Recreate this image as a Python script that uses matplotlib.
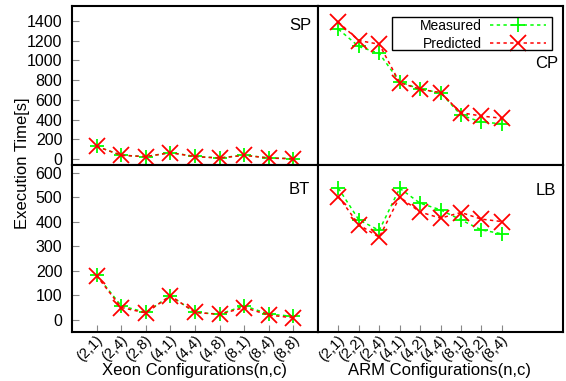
import matplotlib
matplotlib.use("Agg")
import matplotlib.pyplot as plt
import matplotlib.transforms as mtransforms
from matplotlib.patches import Rectangle

plt.rcParams['font.family'] = ['Liberation Sans', 'DejaVu Sans']

xeon_labels = ["(2,1)", "(2,4)", "(2,8)", "(4,1)", "(4,4)", "(4,8)", "(8,1)", "(8,4)", "(8,8)"]
arm_labels = ["(2,1)", "(2,2)", "(2,4)", "(4,1)", "(4,2)", "(4,4)", "(8,1)", "(8,2)", "(8,4)"]

sp_measured = [129, 40, 25, 66, 27, 12, 40, 12, 5]
sp_predicted = [129, 38, 25, 64, 25, 10, 38, 10, 3]
cp_measured = [1315, 1140, 1070, 784, 707, 673, 446, 375, 358]
cp_predicted = [1385, 1200, 1163, 774, 707, 673, 470, 436, 413]
bt_measured = [183, 57, 30, 98, 30, 23, 57, 23, 14]
bt_predicted = [180, 50, 28, 98, 30, 22, 50, 19, 8]
lb_measured = [537, 408, 365, 537, 476, 449, 408, 367, 351]
lb_predicted = [503, 388, 337, 501, 440, 415, 438, 411, 401]

W, H = 566, 381
fig = plt.figure(figsize=(W / 100, H / 100), dpi=100)

def fx(px):
    return px / W

def fy(py):
    return 1 - py / H

xl, xm, xr = 72, 318, 563
yt, ym, yb = 6, 165, 332

ax_sp = fig.add_axes([fx(xl), fy(ym), fx(xm - xl), fy(yt) - fy(ym)])
ax_cp = fig.add_axes([fx(xm), fy(ym), fx(xr - xm), fy(yt) - fy(ym)])
ax_bt = fig.add_axes([fx(xl), fy(yb), fx(xm - xl), fy(ym) - fy(yb)])
ax_lb = fig.add_axes([fx(xm), fy(yb), fx(xr - xm), fy(ym) - fy(yb)])

green = '#00ff00'
red = '#ff0000'
FS = 11.5
XFS = 10.5

def draw(ax, labels, meas, pred, name, name_pos, xlim, ylim, yticks, ylab, xlab):
    x = list(range(len(labels)))
    ax.plot(x, meas, linestyle=(0, (2.2, 2.2)), color=green, lw=1.1,
            marker='+', markersize=10, markeredgewidth=1.3, label='Measured')
    ax.plot(x, pred, linestyle=(0, (2.2, 2.2)), color=red, lw=1.1,
            marker='x', markersize=11.5, markeredgewidth=1.3, label='Predicted')
    ax.set_xlim(*xlim)
    ax.set_ylim(*ylim)
    for s in ax.spines.values():
        s.set_linewidth(1.5)
    ax.set_yticks(yticks)
    if ylab:
        ax.tick_params(axis='y', direction='in', length=5, color='#888888',
                       labelsize=FS, left=True, right=False, pad=7)
    else:
        ax.tick_params(axis='y', left=False, right=False, labelleft=False)
    ax.set_xticks(x)
    if xlab:
        ax.set_xticklabels(labels, rotation=45, ha='right', va='center',
                           rotation_mode='anchor', fontsize=XFS)
        ax.tick_params(axis='x', direction='in', length=5, color='#888888', pad=4,
                       bottom=True, top=False)
        off = mtransforms.ScaledTranslation(4 / 100, 0, fig.dpi_scale_trans)
        for t in ax.get_xticklabels():
            t.set_transform(t.get_transform() + off)
    else:
        ax.tick_params(axis='x', bottom=False, top=False, labelbottom=False)
    ax.text(name_pos[0], name_pos[1], name, transform=ax.transAxes,
            ha='right', va='center', fontsize=12)

draw(ax_sp, xeon_labels, sp_measured, sp_predicted, 'SP', (0.972, 0.88), (-1, 9), (-60, 1550),
     [0, 200, 400, 600, 800, 1000, 1200, 1400], True, False)
draw(ax_cp, arm_labels, cp_measured, cp_predicted, 'CP', (0.98, 0.64), (-1, 11), (-60, 1550),
     [0, 200, 400, 600, 800, 1000, 1200, 1400], False, False)
draw(ax_bt, xeon_labels, bt_measured, bt_predicted, 'BT', (0.967, 0.856), (-1, 9), (-50, 632),
     [0, 100, 200, 300, 400, 500, 600], True, True)
draw(ax_lb, arm_labels, lb_measured, lb_predicted, 'LB', (0.971, 0.85), (-1, 11), (-50, 632),
     [0, 100, 200, 300, 400, 500, 600], False, True)

leg = ax_cp.legend(loc='upper right', bbox_to_anchor=(fx(546), fy(19)),
                   bbox_transform=fig.transFigure, markerfirst=False,
                   fontsize=10, frameon=False, borderaxespad=0, borderpad=0,
                   handlelength=4.0, labelspacing=0.3, handletextpad=0.6)
for t in leg.get_texts():
    t.set_ha('right')
fig.patches.append(Rectangle((fx(392), fy(50)), fx(552 - 392), fy(17) - fy(50),
                             transform=fig.transFigure, fill=False,
                             edgecolor='black', linewidth=1.0, zorder=5))

fig.text(fx(23), fy(163), 'Execution Time[s]', rotation=90, ha='center', va='center', fontsize=12)
fig.text(fx(195), fy(370), 'Xeon Configurations(n,c)', ha='center', va='center', fontsize=12)
fig.text(fx(440), fy(370), 'ARM Configurations(n,c)', ha='center', va='center', fontsize=12)

fig.savefig('out.png', dpi=100)
